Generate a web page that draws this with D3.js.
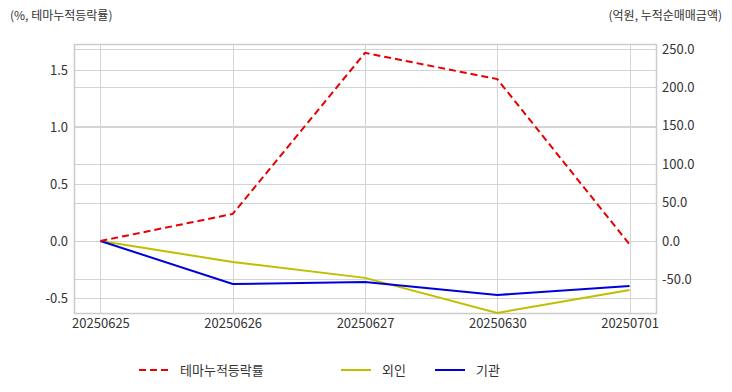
<!DOCTYPE html>
<html>
<head>
<meta charset="utf-8">
<script src="https://cdn.jsdelivr.net/npm/d3@7"></script>
<style>
	body { margin: 0; background: #fff; }
	text { font-family: "Noto Sans CJK KR", "Noto Sans", sans-serif; fill: #333; }
</style>
</head>
<body>
<div id="chart"></div>
<script>
var dates = ["20250625", "20250626", "20250627", "20250630", "20250701"];
var themeRate = [0, 0.237, 1.65, 1.42, -0.03];
var foreignNet = [0, -27.3, -48.0, -93.7, -63.8];
var instNet = [0, -56.0, -53.4, -70.3, -58.6];
var leftTicks = [-0.5, 0, 0.5, 1.0, 1.5];
var rightTicks = [-50, 0, 50, 100, 150, 200, 250];

var svgwidth = 732;
var svgheight = 392;
var plotLeft = 74, plotRight = 656, plotTop = 44, plotBottom = 313;

var svg = d3.select("#chart")
	.append("svg")
	.attr("width", svgwidth)
	.attr("height", svgheight);

var xScale = d3.scaleLinear().domain([-0.2, 4.2]).range([plotLeft, plotRight]);
var yLeft = d3.scaleLinear().domain([-0.632, 1.728]).range([plotBottom, plotTop]);
var yRight = d3.scaleLinear().domain([-93.75, 256.5]).range([plotBottom, plotTop]);

// grid lines
var grid = svg.append("g").attr("stroke", "#d4d4d4").attr("stroke-width", 1);
grid.selectAll(".gl").data(leftTicks).enter().append("line")
	.attr("x1", plotLeft).attr("x2", plotRight)
	.attr("y1", function (d) { return Math.round(yLeft(d)) + 0.5; })
	.attr("y2", function (d) { return Math.round(yLeft(d)) + 0.5; });
grid.selectAll(".gr").data(rightTicks).enter().append("line")
	.attr("x1", plotLeft).attr("x2", plotRight)
	.attr("y1", function (d) { return Math.round(yRight(d)) + 0.5; })
	.attr("y2", function (d) { return Math.round(yRight(d)) + 0.5; });
grid.selectAll(".gx").data(dates).enter().append("line")
	.attr("y1", plotTop).attr("y2", plotBottom)
	.attr("x1", function (d, i) { return Math.round(xScale(i)) + 0.5; })
	.attr("x2", function (d, i) { return Math.round(xScale(i)) + 0.5; });

svg.append("rect")
	.attr("x", plotLeft + 0.5).attr("y", plotTop + 0.5)
	.attr("width", plotRight - plotLeft).attr("height", plotBottom - plotTop)
	.attr("fill", "none").attr("stroke", "#cccccc").attr("stroke-width", 1.5);

// axes
var fmt = function (d) { return d3.format(".1f")(d).replace("\u2212", "-"); };
var axLeft = svg.append("g")
	.attr("transform", "translate(" + plotLeft + ",0)")
	.call(d3.axisLeft(yLeft).tickValues(leftTicks).tickSize(0).tickPadding(6).tickFormat(fmt));
var axRight = svg.append("g")
	.attr("transform", "translate(" + plotRight + ",0)")
	.call(d3.axisRight(yRight).tickValues(rightTicks).tickSize(0).tickPadding(6).tickFormat(fmt));
var axBottom = svg.append("g")
	.attr("transform", "translate(0," + plotBottom + ")")
	.call(d3.axisBottom(xScale).tickValues(d3.range(dates.length)).tickSize(0).tickPadding(6)
		.tickFormat(function (i) { return dates[i]; }));
[axLeft, axRight, axBottom].forEach(function (a) {
	a.select(".domain").remove();
	a.selectAll("text").style("font-size", "13px").attr("fill", "#333");
});

// unit labels
svg.append("text").attr("x", 10).attr("y", 20).style("font-size", "12px").text("(%, 테마누적등락률)");
svg.append("text").attr("x", 722).attr("y", 20).attr("text-anchor", "end").style("font-size", "12px").text("(억원, 누적순매매금액)");

// lines
var lineLeft = d3.line().x(function (d, i) { return xScale(i); }).y(function (d) { return yLeft(d); });
var lineRight = d3.line().x(function (d, i) { return xScale(i); }).y(function (d) { return yRight(d); });

svg.append("path").datum(foreignNet).attr("d", lineRight)
	.attr("fill", "none").attr("stroke", "#bfbf00").attr("stroke-width", 2);
svg.append("path").datum(instNet).attr("d", lineRight)
	.attr("fill", "none").attr("stroke", "#0000dd").attr("stroke-width", 2);
svg.append("path").datum(themeRate).attr("d", lineLeft)
	.attr("fill", "none").attr("stroke", "#e60000").attr("stroke-width", 2)
	.attr("stroke-dasharray", "7,4");

// legend
var legendItems = [
	{ label: "테마누적등락률", color: "#e60000", dash: "7,4", x: 139 },
	{ label: "외인", color: "#bfbf00", dash: null, x: 341 },
	{ label: "기관", color: "#0000dd", dash: null, x: 435 }
];
var lg = svg.selectAll(".legend").data(legendItems).enter().append("g")
	.attr("transform", function (d) { return "translate(" + d.x + ",370)"; });
lg.append("line").attr("x1", 0).attr("x2", 30).attr("y1", 0).attr("y2", 0)
	.attr("stroke", function (d) { return d.color; }).attr("stroke-width", 2)
	.attr("stroke-dasharray", function (d) { return d.dash; });
lg.append("text").attr("x", 41).attr("y", 5).style("font-size", "13px")
	.text(function (d) { return d.label; });
</script>
</body>
</html>
